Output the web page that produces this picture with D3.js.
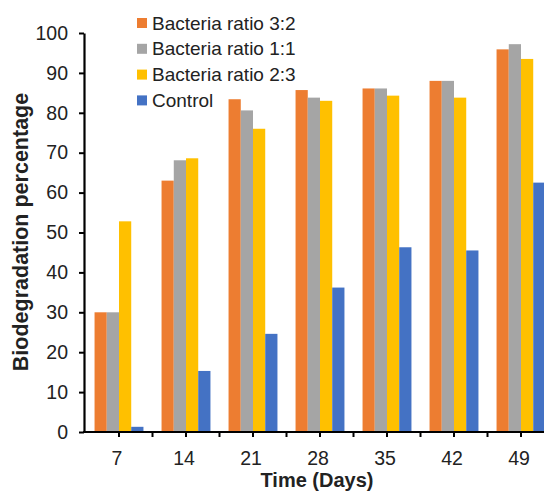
<!DOCTYPE html>
<html><head><meta charset="utf-8">
<script src="https://cdn.jsdelivr.net/npm/d3@7/dist/d3.min.js"></script>
<style>
html,body{margin:0;padding:0;background:#fff;}
svg{display:block;font-family:"Liberation Sans",Arial,sans-serif;}
</style></head>
<body><svg id="chart" width="544" height="491"></svg>
<script>
const categories = ["7","14","21","28","35","42","49"];
const seriesNames = ["Bacteria ratio 3:2","Bacteria ratio 1:1","Bacteria ratio 2:3","Control"];
const ratio32 = [30, 63, 83.4, 85.7, 86.1, 88, 95.9];
const ratio11 = [30, 68.1, 80.6, 83.8, 86.1, 88, 97.2];
const ratio23 = [52.8, 68.6, 76, 83, 84.3, 83.8, 93.5];
const control = [1.3, 15.3, 24.6, 36.2, 46.3, 45.5, 62.5];
const yTicks = [0,10,20,30,40,50,60,70,80,90,100];
const colors = ["#ED7D31","#A5A5A5","#FFC000","#4472C4"];
const seriesValues = [ratio32, ratio11, ratio23, control];

const svg = d3.select("#chart");
const mLeft = 84, mBottom = 432, mTop = 33;
const x = d3.scaleBand().domain(categories).range([85.5, 554.5]).paddingInner(0.27).paddingOuter(0.135);
const xs = d3.scaleBand().domain(seriesNames).range([0, x.bandwidth()]);
const y = d3.scaleLinear().domain([0,100]).range([mBottom, mTop]);

// bars
seriesNames.forEach((s, si) => {
  svg.append("g").selectAll("rect").data(categories).join("rect")
    .attr("x", c => x(c) + xs(s))
    .attr("y", (c,i) => y(seriesValues[si][i]))
    .attr("width", xs.bandwidth())
    .attr("height", (c,i) => y(0) - y(seriesValues[si][i]))
    .attr("fill", colors[si]);
});

// y axis
const ya = svg.append("g").attr("transform", `translate(${mLeft},0)`)
  .call(d3.axisLeft(y).tickValues(yTicks).tickSize(5).tickPadding(11).tickSizeOuter(0));
ya.select(".domain").attr("stroke","#000").attr("stroke-width",2.2);
ya.selectAll(".tick line").attr("stroke","#000").attr("stroke-width",2);
ya.selectAll(".tick text").attr("font-size",19.5).attr("fill","#222").attr("font-family","Liberation Sans, Arial, sans-serif");

// x axis
const xa = svg.append("g").attr("transform", `translate(0,${mBottom})`)
  .call(d3.axisBottom(x).tickSize(5).tickPadding(14).tickSizeOuter(0));
xa.select(".domain").remove();
xa.append("line").attr("x1", mLeft - 1).attr("x2", 544).attr("y1",0).attr("y2",0)
  .attr("stroke","#000").attr("stroke-width",2.2);
xa.selectAll(".tick line").attr("stroke","#000").attr("stroke-width",2);
xa.selectAll(".tick text").attr("font-size",19.5).attr("fill","#222").attr("font-family","Liberation Sans, Arial, sans-serif")
  .attr("dx", -2);
// boundary ticks
xa.append("g").selectAll("line").data(categories).join("line")
  .attr("x1", c => x(c) + x.bandwidth()/2 + x.step()/2)
  .attr("x2", c => x(c) + x.bandwidth()/2 + x.step()/2)
  .attr("y1", 0).attr("y2", 5).attr("stroke","#000").attr("stroke-width",2);

// axis titles
svg.append("text").attr("x", 317).attr("y", 487)
  .attr("text-anchor","middle").attr("font-size",20).attr("font-weight","bold").attr("fill","#222")
  .text("Time (Days)");
svg.append("text").attr("transform","translate(28,232) rotate(-90)")
  .attr("text-anchor","middle").attr("font-size",21.5).attr("font-weight","bold").attr("fill","#222")
  .text("Biodegradation percentage");

// legend
const lg = svg.append("g");
seriesNames.forEach((s, i) => {
  const cy = 23 + i*25.8;
  lg.append("rect").attr("x",137).attr("y",cy-5).attr("width",10).attr("height",10).attr("fill",colors[i]);
  lg.append("text").attr("x",152).attr("y",cy).attr("dy","0.35em").attr("font-size",19).attr("fill","#222").text(s);
});
</script></body></html>
